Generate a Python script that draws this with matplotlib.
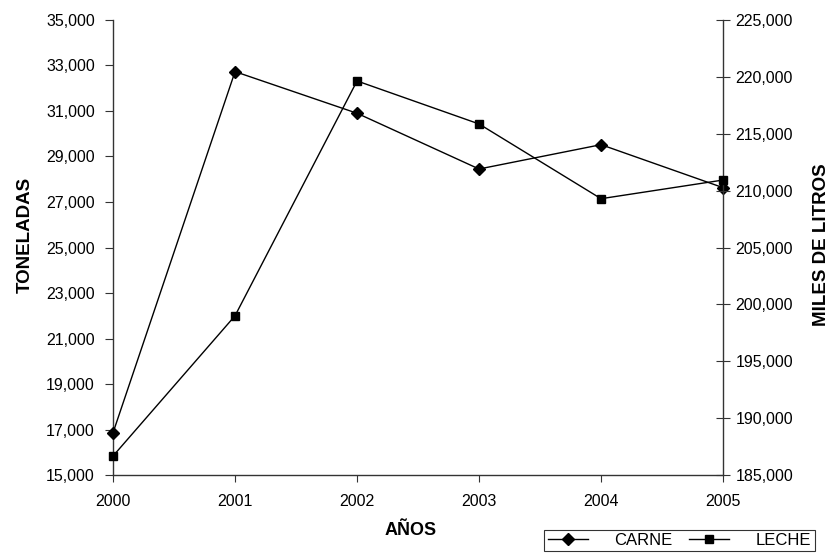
import matplotlib
matplotlib.use("Agg")
import matplotlib.pyplot as plt
from matplotlib.ticker import FuncFormatter

plt.rcParams["font.family"] = ["Liberation Sans", "DejaVu Sans"]

years = [2000, 2001, 2002, 2003, 2004, 2005]
carne = [16860, 32730, 30900, 28450, 29520, 27630]       # toneladas
leche = [186670, 199000, 219640, 215860, 209290, 210930]  # miles de litros

left_ticks = list(range(15000, 35001, 2000))
right_ticks = list(range(185000, 225001, 5000))

thousands = FuncFormatter(lambda v, _: f"{v:,.0f}")

fig = plt.figure(figsize=(8.33, 5.55), dpi=100)
ax = fig.add_axes([0.1357, 0.1441, 0.7323, 0.8199])
ax2 = ax.twinx()

l1, = ax.plot(years, carne, color="black", lw=1.0, marker="D", ms=6.2,
              label="CARNE", clip_on=False, zorder=3)
l2, = ax2.plot(years, leche, color="black", lw=1.0, marker="s", ms=5.8,
               label="LECHE", clip_on=False, zorder=3)

ax.set_xlim(2000, 2005)
ax.set_ylim(15000, 35000)
ax2.set_ylim(185000, 225000)
ax.set_yticks(left_ticks)
ax2.set_yticks(right_ticks)
ax.yaxis.set_major_formatter(thousands)
ax2.yaxis.set_major_formatter(thousands)
ax.set_xticks(years)

for a in (ax, ax2):
    a.spines["top"].set_visible(False)
    for s in a.spines.values():
        s.set_color("#333333")
        s.set_linewidth(1.0)
ax.spines["right"].set_visible(False)
ax2.spines["left"].set_visible(False)
ax2.spines["bottom"].set_visible(False)

ax.tick_params(axis="y", labelsize=11.5, length=6, color="#333333", pad=7)
ax.tick_params(axis="x", labelsize=11.5, length=5, color="#333333", pad=9)
ax2.tick_params(axis="y", labelsize=11.5, length=10, direction="inout",
                color="#333333", pad=4)

fig.text(0.030, 0.577, "TONELADAS", rotation=90, ha="center", va="center",
         fontsize=13.5, fontweight="bold")
fig.text(0.986, 0.559, "MILES DE LITROS", rotation=90, ha="center",
         va="center", fontsize=13.5, fontweight="bold")
fig.text(0.493, 0.045, "AÑOS", ha="center", va="center",
         fontsize=13, fontweight="bold")

leg = fig.legend(handles=[l1, l2], loc="center", ncol=2,
                 bbox_to_anchor=(0.8157, 0.026), frameon=True, fancybox=False,
                 edgecolor="black", fontsize=12, handlelength=2.4,
                 columnspacing=1.0, borderpad=0.2, handletextpad=1.6,
                 borderaxespad=0)
leg.get_frame().set_linewidth(0.8)

fig.savefig("out.png", dpi=100, facecolor="white")
